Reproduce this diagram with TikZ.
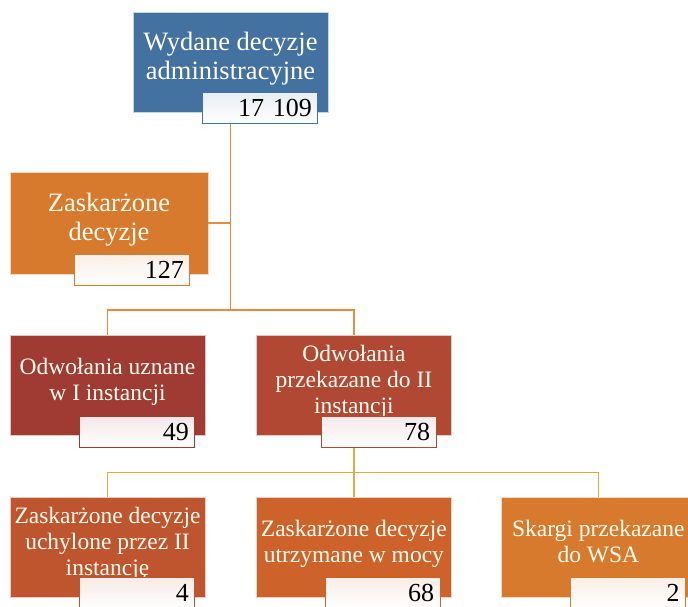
\documentclass[tikz,border=0pt]{standalone}
\usepackage{fontspec}
\setmainfont{Liberation Serif}
\usetikzlibrary{positioning}
\definecolor{decblue}{RGB}{68,114,160}
\definecolor{decorange}{RGB}{215,122,46}
\definecolor{decred}{RGB}{160,59,51}
\definecolor{decrust}{RGB}{176,72,51}
\definecolor{decbrick}{RGB}{191,85,47}
\definecolor{decpumpkin}{RGB}{205,99,43}
\definecolor{linkorange}{RGB}{232,140,60}
\definecolor{linkyellow}{RGB}{218,176,60}
\tikzset{
    %Define style for boxes
    box/.style={
           rectangle,
           draw=white!70!#1,
           fill=#1,
           text=white!94!yellow,
           minimum width=195pt,
           minimum height=100pt,
           inner sep=2pt,
           align=center,
           text depth=12pt,
           font=\fontsize{23.5}{26}\selectfont},
    bigbox/.style={
           box=#1,
           font=\fontsize{26.5}{29}\selectfont},
    %Define style for number boxes
    numbox/.style={
           rectangle,
           draw=#1, thick,
           top color=#1!12!white,
           bottom color=white,
           text width=103pt,
           minimum height=31pt,
           inner xsep=6pt,
           inner ysep=2pt,
           align=right,
           anchor=north east,
           text=black,
           font=\fontsize{26}{28}\selectfont},
    % Define line style
    link/.style={
           line width=1.5pt,
           draw=#1}
}
\begin{document}
\begin{tikzpicture}[x=1pt,y=1pt,node distance=51pt]
\useasboundingbox (0,0) rectangle (688,-606);
\node[bigbox=decblue] (wyd) at (230.5,-62) {Wydane decyzje\\administracyjne};
\node[bigbox=decorange, minimum width=198pt, minimum height=102pt] (zask) at (109,-223) {Zaskarżone\\decyzje};
\node[box=decred] (uzn) at (107.5,-385.5) {Odwołania uznane\\w I instancji};
\node[box=decrust, right=of uzn] (prz) {Odwołania\\przekazane do II\\instancji};
\node[box=decbrick, below=61pt of uzn] (uch) {Zaskarżone decyzje\\uchylone przez II\\instancję};
\node[box=decpumpkin, right=of uch] (utrz) {Zaskarżone decyzje\\utrzymane w mocy};
\node[box=decorange, right=49pt of utrz] (wsa) {Skargi przekazane\\do WSA};
% connectors
\coordinate[below=198pt of wyd.south] (j1);
\coordinate[below=37pt of prz.south] (j2);
\draw[link=linkorange] (wyd.south) |- (zask.east);
\draw[link=linkorange] (wyd.south) -- (j1) -| (uzn.north);
\draw[link=linkorange] (j1) -| (prz.north);
\draw[link=linkyellow] (prz.south) -- (j2) -| (uch.north);
\draw[link=linkyellow] (j2) -- (utrz.north);
\draw[link=linkyellow] (j2) -| (wsa.north);
% numbers
\node[numbox=decblue] (wyd-n) at ([shift={(-10pt,20pt)}]wyd.south east) {17 109};
\node[numbox=decorange] (zask-n) at ([shift={(-18pt,20pt)}]zask.south east) {127};
\node[numbox=decred] (uzn-n) at ([shift={(-10pt,20pt)}]uzn.south east) {49};
\node[numbox=decrust] (prz-n) at ([shift={(-15pt,20pt)}]prz.south east) {78};
\node[numbox=decbrick] (uch-n) at ([shift={(-10pt,20pt)}]uch.south east) {4};
\node[numbox=decpumpkin] (utrz-n) at ([shift={(-11pt,20pt)}]utrz.south east) {68};
\node[numbox=decorange] (wsa-n) at ([shift={(-10pt,20pt)}]wsa.south east) {2};
\end{tikzpicture}
\end{document}
